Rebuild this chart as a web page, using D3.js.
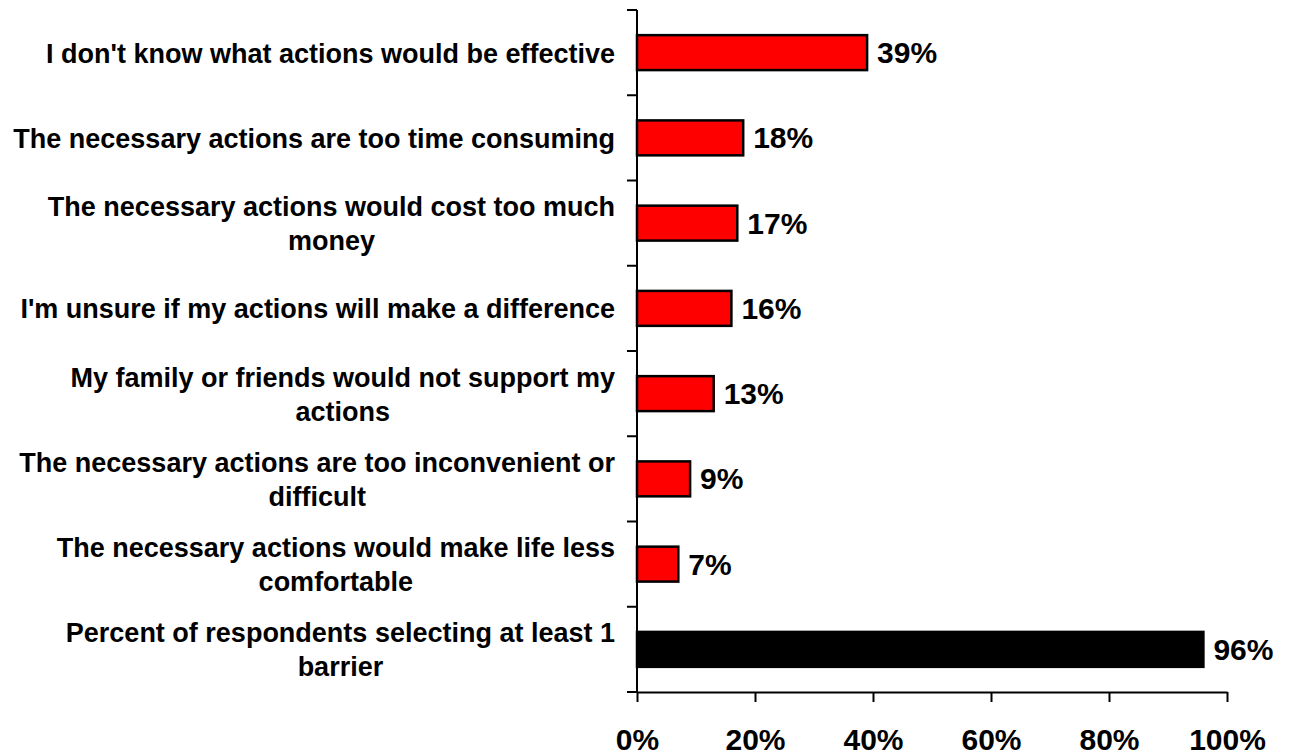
<!DOCTYPE html>
<html>
<head>
<meta charset="utf-8">
<script src="https://cdn.jsdelivr.net/npm/d3@7"></script>
<style>
  html, body { margin: 0; padding: 0; background: #fff; }
  svg { display: block; }
  text { font-family: "Liberation Sans", Arial, Helvetica, sans-serif; font-weight: bold; fill: #000; }
</style>
</head>
<body>
<svg id="chart" width="1296" height="755"></svg>
<script>
// Barriers to taking action (share of respondents)
const categories = [
  "I don't know what actions would be effective",
  "The necessary actions are too time consuming",
  "The necessary actions would cost too much money",
  "I'm unsure if my actions will make a difference",
  "My family or friends would not support my actions",
  "The necessary actions are too inconvenient or difficult",
  "The necessary actions would make life less comfortable",
  "Percent of respondents selecting at least 1 barrier"
];
// Wrapped label lines, one entry per category
const labelLines = [
  ["I don't know what actions would be effective"],
  ["The necessary actions are too time consuming"],
  ["The necessary actions would cost too much", "money"],
  ["I'm unsure if my actions will make a difference"],
  ["My family or friends would not support my", "actions"],
  ["The necessary actions are too inconvenient or", "difficult"],
  ["The necessary actions would make life less", "comfortable"],
  ["Percent of respondents selecting at least 1", "barrier"]
];
const values = [0.39, 0.18, 0.17, 0.16, 0.13, 0.09, 0.07, 0.96];
const barColors = ["#ff0000", "#ff0000", "#ff0000", "#ff0000", "#ff0000", "#ff0000", "#ff0000", "#000000"];
const xTicks = [0, 0.2, 0.4, 0.6, 0.8, 1.0];

const svg = d3.select("#chart");
const plotLeft = 637, plotRight = 1227, plotTop = 10, plotBottom = 692;

const x = d3.scaleLinear().domain([0, 1]).range([plotLeft, plotRight]);
const y = d3.scaleBand().domain(categories).range([plotTop, plotBottom]).padding(0);
const bw = y.bandwidth();
const barH = bw * 0.41;

const pct = d3.format(".0%");

// Bars
svg.append("g").selectAll("rect")
  .data(categories)
  .join("rect")
  .attr("x", x(0))
  .attr("y", (c) => y(c) + (bw - barH) / 2)
  .attr("width", (c, i) => x(values[i]) - x(0))
  .attr("height", barH)
  .attr("fill", (c, i) => barColors[i])
  .attr("stroke", "#000")
  .attr("stroke-width", 2.5);

// Value labels
svg.append("g").selectAll("text")
  .data(categories)
  .join("text")
  .attr("x", (c, i) => x(values[i]) + 10)
  .attr("y", (c) => y(c) + bw / 2 + 10.5)
  .attr("font-size", 30)
  .text((c, i) => pct(values[i]));

// X axis
const xAxis = d3.axisBottom(x)
  .tickValues(xTicks)
  .tickFormat(pct)
  .tickSize(10)
  .tickSizeOuter(0)
  .tickPadding(27);
const gx = svg.append("g").attr("transform", `translate(0,${plotBottom})`).call(xAxis);
gx.selectAll("path, line").attr("stroke", "#000").attr("stroke-width", 2);
gx.selectAll("text")
  .attr("font-size", 30)
  .attr("font-family", "'Liberation Sans', Arial, sans-serif")
  .attr("font-weight", "bold")
  .attr("fill", "#000");
// axis line continues a little to the left of the origin
svg.append("line")
  .attr("x1", plotLeft - 10).attr("x2", plotLeft)
  .attr("y1", plotBottom).attr("y2", plotBottom)
  .attr("stroke", "#000").attr("stroke-width", 2);

// Y axis: vertical line with ticks at category boundaries
svg.append("line")
  .attr("x1", plotLeft).attr("x2", plotLeft)
  .attr("y1", plotTop).attr("y2", plotBottom)
  .attr("stroke", "#000").attr("stroke-width", 2);
svg.append("g").selectAll("line")
  .data(categories)
  .join("line")
  .attr("x1", plotLeft - 10).attr("x2", plotLeft)
  .attr("y1", (c) => y(c)).attr("y2", (c) => y(c))
  .attr("stroke", "#000").attr("stroke-width", 2);

// Category labels: block right-aligned, lines centered within block
const labelRight = 615;
const fs = 27, lineH = 34;
const lg = svg.append("g");
categories.forEach((c, i) => {
  const lines = labelLines[i];
  const g = lg.append("g");
  const texts = g.selectAll("text")
    .data(lines)
    .join("text")
    .attr("font-size", fs)
    .attr("text-anchor", "middle")
    .text((d) => d);
  let maxW = 0;
  texts.each(function () { maxW = Math.max(maxW, this.getComputedTextLength()); });
  const cx = labelRight - maxW / 2;
  const cy = y(c) + bw / 2;
  const n = lines.length;
  texts
    .attr("x", cx)
    .attr("y", (d, k) => cy + (k - (n - 1) / 2) * lineH + fs * 0.37);
});
</script>
</body>
</html>
